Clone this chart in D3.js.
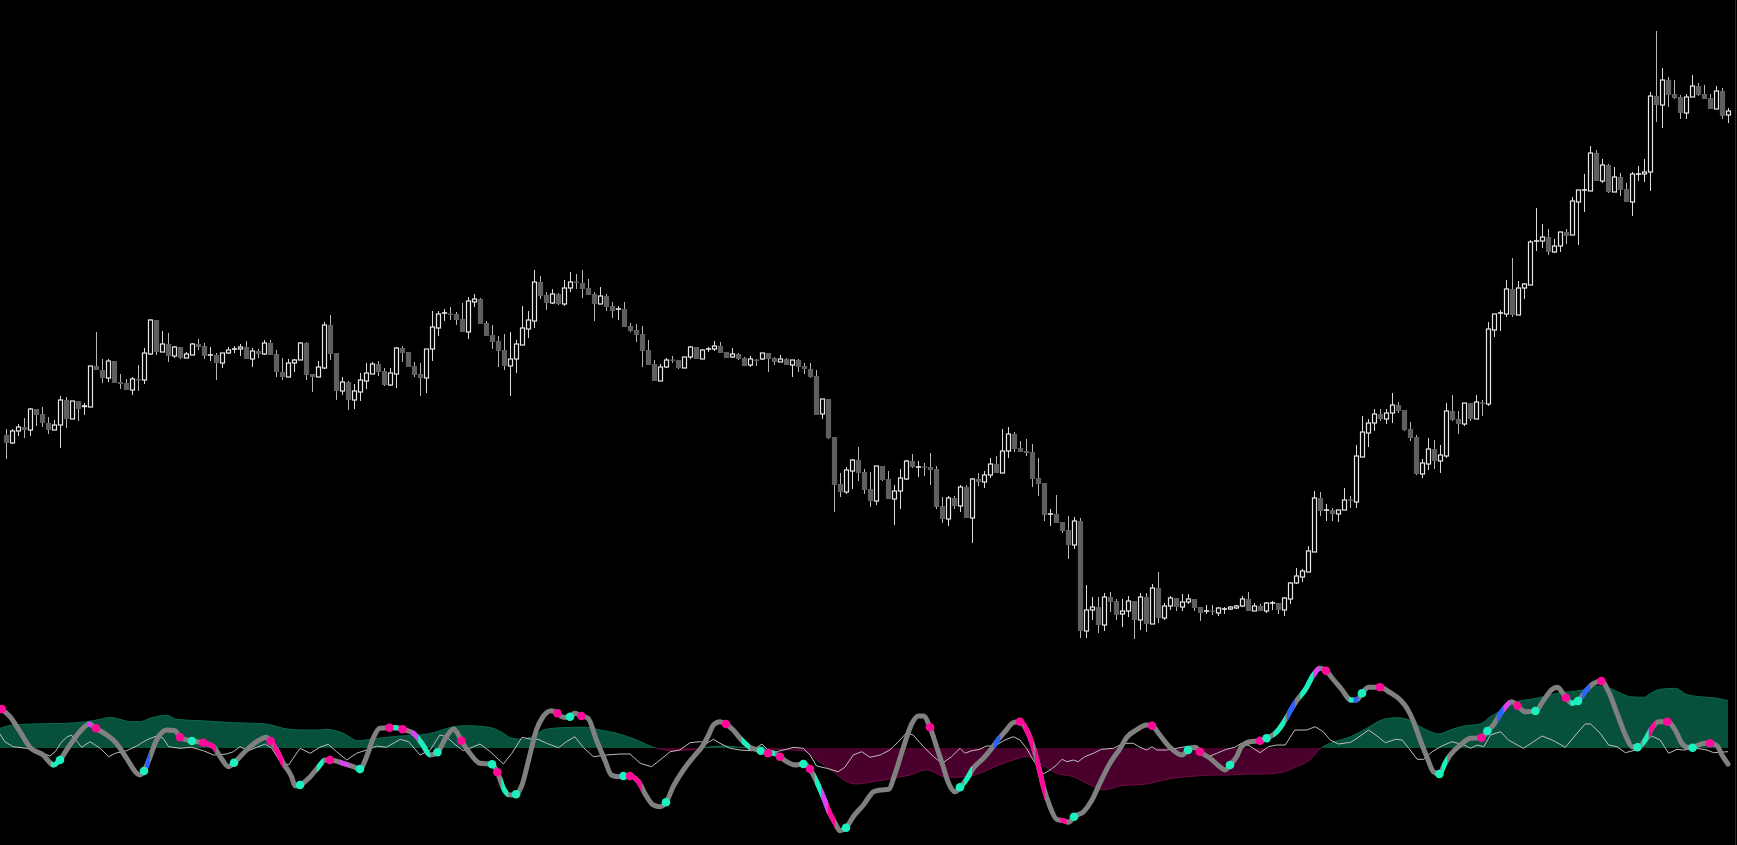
<!DOCTYPE html>
<html lang="en">
<head>
<meta charset="utf-8">
<title>Candles with oscillator</title>
<script src="https://cdn.jsdelivr.net/npm/d3@7"></script>
<style>
  html, body { margin: 0; padding: 0; background: #000; overflow: hidden; }
  svg { display: block; }
</style>
</head>
<body>
<script>
// ---- price candles (one per bar) ----
var opens = [265,257,269,273,270,291,286,277,270,275, 300,281,299,292,293,334,330,322,339,318,
  317,310,321,320,346,380,348,356,344,353, 342,345,356,354,345,345,337,347,351,351,
  353,341,349,346,357,346,328,323,337,340, 357,326,323,332,375,347,309,318,300,308,
  319,326,336,329,315,326,352,348,334,326, 322,351,372,387,386.5,386,381,368,398,401,
  377,365,359,350,334,341,355,371,379,418, 405,397,406,396,412,418.5,417,412,406,396,
  404,394,391,391,374,370,366,350,336,319, 333,340.5,340,332,343,353,341,351,351,354,
  348,343,346,342,335,340.5,341,347,342,338, 341,335,340,334,331,324,286,301,263,216,
  208,229,240,228,211,199,234,221,201,209, 221,239,233,233.5,233,231,194,181,202,194,
  213,182,221,218,225,236,227,249,266,252, 249,248,222,217,186,186,178,170,155,179,
  69,90,93,75,103,99,86,89,99,80, 103,76,112,82,94,102,93,98,101,93,
  89,89.5,87,91,91,92,94,101,89,94, 89,97,97,90,101,117,123,128,148,202,
  190,190,186,190,200.5,198,243,267,277,286, 281,287,295,290,271,263,226,236,251,239,
  244,289,281,276,297,281,297.5,296,370,387, 386,411,385,412,415,459,459,463,448,454,
  468,465,498,510,509,547,519,535,508,523, 511,498,526,526,528,604,595,620,606,603,
  587,603,614,606,602,591,609,585];
var highs = [271,271,276,282,292,291,293,283,280,304, 303,299,299,297,334,368,341,341,339,326,
  321,323,335,352,381,380,369,367,354,353, 348,357,361,357,353,347,347,353,354,356,
  359,352,351,360,360,350,342,341,341,358, 358,326,339,378,385,347,323,319,316,327,
  337,338,339,332,332,353,354,348,338,337, 351,389,389,391,393,388,397,403,406,402,
  379,375,364,366,368,360,394,389,430,424, 408,411,407,420,428,426,430,421,408,413,
  406,398,394,398,377,376,374,360,340,336, 342,344,340,343,354,353,351,353,359,358,
  348,352,347,343,344,341,347,347,343,345, 342,340,341,337,337,330,301,301,263,227,
  233,241,253,231,228,234,234,229,215,231, 240,246,239,237,247,234,203,204,204,215,
  215,222,227,229,242,244,271,273,268,259, 261,256,242,217,191,205,178,184,183,182,
  115,103,103,107,108,101,101,104,99,107, 107,116,128,97,104,102,106,106,101,93,
  95,95,93,93,94,95,104,108,97,96, 98,99,97,103,118,132,131,154,209,208,
  196,192,190,212,204,255,284,281,291,291, 291,307,298,290,278,265,241,262,260,255,
  297,305,289,297,297,305,300,378,386,390, 420,442,419,417,460,492,476,471,461,468,
  471,503,510,526,554,550,541,536,533,527, 517,528,534,541,608,669,632,623,620,605,
  606,625,617,615,606,614,612,592];
var lows = [241,256,264,262,264,274,273,266,270,252, 272,281,279,285,293,330,317,318,317,311,
  310,305,309,316,345,345,348,338,342,341, 342,345,350,341,339,320,332,346,347,344,
  341,333,342,345,345,323,320,323,328,340, 320,308,323,331,340,300,305,290,291,299,
  311,326,324,314,314,312,338,333,323,304, 307,339,364,379,380,375,368,361,393,376,
  364,351,333,330,304,327,355,362,372,401, 390,396,395,394,408,411,402,405,379,396,
  389,382,380,373,368,358,333,335,319,319, 332,337,331,332,341,341,341,348,349,347,
  342,342,340,334,333,334,340,328,335,338, 335,323,328,326,322,285,281,261,188,203,
  206,211,219,206,193,195,219,201,175,191, 220,232,223,224,215,191,177,174,191,188,
  182,157,214,212,222,227,227,242,248,248, 244,213,204,179,174,177,167,141,151,62,
  62,80,67,69,88,80,73,83,61,70, 68,76,77,80,90,89,89,96,89,79,
  86,85,84,86,90,91,93,89,89,89, 87,90,86,84,96,116,118,128,148,184,
  179,179,178,190,192,192,243,253,269,279, 276,277,287,269,259,225,222,230,231,227,
  242,279,266,274,279,281,284,294,363,369, 383,383,385,401,415,449,452,445,447,448,
  456,465,455,488,509,519,517,507,508,504, 498,484,519,518,509,578,572,593,601,581,
  581,603,604,601,591,591,581,577];
var closes = [257,269,273,270,291,285,277,270,275,300, 281,299,291,294,334,330,322,339,317,316,
  310,321,320,347,380,348,356,344,353,342, 346,356,353,344,345,337,347,350,351,353,
  341,349,346,357,345,328,323,337,340,357, 325,323,333,375,346,309,318,300,309,320,
  327,336,328,315,327,352,347,333,325,322, 351,373,386,387,386,380,368,399,401,376,
  364,358,349,334,341,356,372,380,418,404, 397,406,396,412,418,418,411,405,396,404,
  393,389,391,373,369,365,349,335,319,333, 340,340,332,343,353,341,350,351,354,347,
  342,346,341,334,341,340,347,341,338,341, 335,340,333,331,323,285,301,262,215,208,
  230,240,227,210,199,234,220,201,209,222, 239,233,233,233,230,193,181,202,194,213,
  182,221,218,225,236,227,249,266,251,248, 247,221,216,185,186,177,169,155,179,69,
  90,93,75,103,98,85,89,99,80,103, 76,112,82,94,102,93,98,101,92,87,
  89,89,92,91,93,94,101,89,94,89, 97,97,90,102,117,124,129,149,202,189,
  190,186,190,200,200,244,268,277,286,281, 287,295,289,270,262,226,237,251,239,245,
  289,280,276,297,281,298,297,371,386,387, 411,385,412,416,458,459,463,448,454,468,
  464,499,510,510,547,519,535,508,523,510, 498,526,526,528,604,595,620,605,602,587,
  603,614,605,601,591,609,584,589];

// ---- lower panel: [bar index, value] ----
var histogram = [[-1,19.7],[1.2,23],[4.6,24],[10.1,24.7],[13.4,26.3],[15.7,28.7],[17.3,30.7],[19,28.7],
  [20.7,26.3],[22.3,26.3],[24,29.7],[26.8,32.7],[28.4,28.7],[32.3,27.3],[37.9,25.3],[43.4,24],
  [46.2,19.7],[49,18],[52.3,18],[53.4,18.7],[56.2,14.7],[58.7,7.3],[60.7,8.7],[65.7,12],[69,13],
  [71.2,15.3],[72.3,17.3],[74.6,21.3],[76.8,22.3],[78.4,22],[81.2,19.7],[82.9,14.7],[84.3,9.7],
  [86,8.7],[87.9,12],[89.6,18],[91.2,19.7],[94.6,20.7],[96.8,20.7],[99,18],[101.8,14.7],[105.1,8],
  [107.9,0.7],[111.2,-2.7],[114,-2],[116.2,0.3],[119.6,2],[122.3,0.7],[125.1,-0.3],[127.9,-1.3],
  [132.9,-2.7],[135.1,-12],[137.9,-23.7],[140.1,-33.7],[141.8,-36],[144.6,-33.7],[147.9,-30.3],
  [150.7,-27],[153.4,-22],[156.8,-29.3],[160.1,-28.7],[162.3,-25.3],[165.1,-18],[167.9,-12],
  [170.1,-8.7],[172.3,-15.3],[175.1,-25.3],[177.9,-28.7],[180.7,-37],[182.9,-42],[185.7,-38],
  [190.1,-36],[192.9,-32],[195.7,-29.3],[198.4,-28],[201.2,-27],[204,-27],[206.8,-26],[209.6,-26],
  [212.3,-24.7],[215.1,-18.7],[217.3,-12],[219,-1],[220.7,4.7],[224.1,11.3],[226.8,19.7],
  [229.6,28.7],[231.8,30.3],[233.5,28.7],[235.2,23],[236.8,18],[238.8,14],[240.7,18],[243,22],
  [245.7,24],[247.4,31.3],[249.6,38.7],[251.8,46.3],[254,48.7],[256.3,51.3],[258.5,54.7],
  [260.7,56.3],[262.9,58],[265.2,62],[267.4,59.7],[269.1,54.7],[270.7,51.3],[273,50.7],
  [274.1,54.7],[275.7,58.7],[278.2,59.7],[280.2,53.3],[282.4,51.3],[285.2,49.7],[287,47.3]];

var signal = [[-1,14],[-0.2,6.3],[1.2,1.3],[3.4,-0.3],[6.2,-5.3],[7.3,-8],[8.2,-3.7],[9.3,6.3],
  [10.1,10.7],[10.9,13],[12.1,4.7],[12.6,0.7],[14,6.3],[15.7,-0.3],[17.1,-8.7],[18.2,-5.3],
  [20.1,-2.7],[21.8,2],[23.4,8],[25.1,12],[26.2,9.7],[27.1,1.3],[29,-0.3],[30.9,0.7],[32.9,-2.7],
  [34.6,-7],[36.8,-6],[37.9,-3.7],[39,1.3],[40.4,-2.7],[41.8,0.7],[43.2,4],[44.3,-0.3],
  [45.7,-13.7],[47.1,-17],[49,-0.3],[50.7,-5.3],[52.3,0.7],[53.7,3.7],[55.1,-3.7],[56.8,-12],
  [58.4,-5.3],[60.1,-2],[61.8,2],[63.4,0.7],[65.7,8.7],[67.1,6.3],[69,-7],[70.7,-2],[72.3,13],
  [73.4,11.3],[74.6,4.7],[76.2,-2.7],[77.3,-0.3],[79,4],[80.7,-3.7],[82.9,-16],[84.3,-5.3],
  [86,10.7],[87.6,8.7],[88.7,8.7],[90.1,4.7],[92.1,0.3],[93.4,6.3],[94.8,11.3],[96.2,0.7],
  [97.9,-8.7],[100.1,-7],[102.3,-6],[104,-6],[105.7,-15.3],[107.6,-18.7],[109,-12],[110.7,-3.7],
  [112.3,-2],[114,5.3],[115.7,6.3],[116.8,4.7],[117.9,8.7],[119,4.7],[120.7,-0.3],[122.3,-2],
  [124.3,-2.7],[126,4],[127,-2],[128.4,-3.7],[130.1,-1.3],[131.2,0.7],[132.9,-0.3],[134,-7],
  [135.1,-18],[136.8,-20.3],[138.7,-23.7],[139.8,-19.3],[141.2,-7],[142.6,-3.7],[144,-9.3],
  [145.7,-7],[147.3,-2],[149,8],[150.1,15.3],[151.2,13],[152.9,1.3],[154.6,-8.7],[156,-15.3],
  [157.6,-8.7],[159,-0.3],[159.8,-5.3],[161,-2.7],[162.3,-1.3],[163.4,2],[164.8,2],[166.5,8],
  [167.9,11.3],[169,8],[170.1,-0.3],[171.2,-12],[172.9,-26],[174,-22],[175.1,-17],[176,-11.3],
  [176.8,-13.7],[177.9,-12],[178.7,-13.7],[179.8,-8.7],[181.2,-5.3],[182.6,-1.3],[184.6,-0.3],
  [186.2,4.7],[187.9,4.7],[189,0.7],[190.1,-2],[191,1.3],[191.8,-2],[193.4,-2],[195.1,-0.3],
  [196,0.7],[197.6,2],[199,-2.7],[200.4,-8.7],[201.8,-5.3],[203.4,-1.3],[204.8,0.7],[205.9,4.7],
  [207.3,2],[209,-4.7],[210.4,1.3],[211.8,3],[213.2,3],[214.8,18],[216.8,18],[218.2,21.3],
  [219.6,16],[220.7,8],[222.1,4],[224.1,5.7],[225.4,10.7],[227.1,18],[228.5,12],[229.9,5.3],
  [231.6,8.7],[232.7,8],[233.8,-0.3],[235.2,-11.3],[236.3,-11.3],[237.7,-3.7],[239.3,2],[241,6.3],
  [243,3],[244.1,-0.3],[245.2,3],[246.3,1.3],[247.4,13],[249.1,16.3],[250.4,8],[252.9,-0.3],
  [254.6,6.3],[256,12],[257.7,8],[259.9,0.7],[261.6,13],[263.2,24],[264.1,24],[265.7,14.7],
  [267.1,3],[268.5,1.3],[269.9,-4.7],[271.6,-2],[273.5,8],[274.3,12],[275.7,8],[277.1,-5.3],
  [278.5,-1.3],[279.6,-2],[281.8,-0.3],[283.5,-2],[284.6,-4.7],[287,-3.7]];

var oscillator = [[-1,39.7],[0.67,31.3],[2.33,16.3],[4,0.7],[6.2,-7],[7.9,-17],[9,-12],[10.1,-2],
  [12.3,16.3],[13.9,24],[15,19.7],[16.8,13],[18.4,4.7],[20.1,-10.3],[21.8,-25.3],[22.3,-27],
  [23,-23],[23.7,-13.7],[25.1,8],[26.8,18],[28.2,17.3],[29,10.7],[31,7],[32.9,5.3],[34.6,1.3],
  [35.7,-8.7],[37.1,-18.7],[38,-14.7],[40.1,-2],[41.8,6.3],[43.4,10.7],[44.1,7],[45.1,-2],
  [46.2,-15.3],[47.6,-28.7],[48.2,-38],[49,-37],[50.7,-28.7],[52.1,-18.7],[53.2,-12],[54,-12],
  [56.2,-15.3],[57.9,-18.7],[59,-21],[60.1,-8.7],[61.2,9.7],[62.3,19.7],[63.9,20.3],[65,20.3],
  [66.1,18.7],[67.9,14.7],[69.3,4.7],[70.7,-7],[71.9,-4.3],[73.4,11.3],[74.6,19],[75.4,13],
  [75.9,7.3],[77.3,-5.3],[79,-15.3],[81,-16.3],[81.9,-24.3],[82.9,-40.3],[84,-47],[85,-46.3],
  [86,-37],[87.1,-12],[88.4,18],[89.5,31.3],[90.9,37.3],[91.9,34.7],[92.9,30.7],[94,31.3],
  [94.8,34.7],[95.9,32],[97,29.7],[98.4,8],[99.8,-12],[100.9,-27],[102,-28.7],[102.9,-28],
  [104,-28],[105.4,-33.7],[106.8,-48.7],[107.9,-57],[109,-58.7],[110,-54.3],[111.2,-38.7],
  [112.9,-22],[114.6,-8.7],[116.2,3],[117.1,13],[117.9,23],[119,26.3],[120,24],[121.2,18],
  [122.6,8],[124,0.7],[125.8,-2.7],[127,-5.3],[127.9,-5.3],[129,-8.7],[130.1,-13.7],[131.5,-17],
  [132.9,-16],[134,-21],[135.1,-33.7],[136.2,-48.7],[137.3,-65.3],[138.2,-75.3],[139,-82.7],
  [140,-79.7],[141.2,-68.7],[142.9,-57],[144.6,-43.7],[145.7,-42],[147.1,-41.3],[148.2,-25.3],
  [149.6,1.3],[151,24.7],[152.1,32],[152.9,32],[154,20.7],[155.1,1.3],[156.2,-18.7],[157,-33.7],
  [158.2,-43.7],[159,-39.3],[160.2,-30.3],[161.2,-20.3],[162.9,-10.3],[164.3,-0.3],[165.1,6.3],
  [166.5,16.3],[167.9,25.3],[169,26.3],[170.1,18],[171.2,1.3],[172.1,-18.7],[172.9,-38.7],
  [174,-58.7],[175.1,-71.3],[176.2,-72.7],[177.1,-74.3],[178,-68.7],[179.6,-63.7],[181,-52],
  [182.3,-35.3],[184,-15.3],[185.7,-0.3],[186.8,10.7],[188.4,18],[190.1,23],[191,22.3],[192.3,13],
  [194,0.7],[196,-7],[197,-2],[198.2,0.7],[199,-3.7],[200.7,-10.3],[202.3,-18.7],[203.2,-22],
  [204,-17],[205.1,-8.7],[205.9,1.3],[207.3,6.3],[209,7.3],[210.1,9.7],[211.8,16.3],[213.2,28],
  [214.3,39.7],[215.4,49.7],[216.5,58],[217.9,73],[219,79.7],[220,77.3],[221.3,68],[222.7,58],
  [224.1,48],[225.1,48],[226,54.7],[227.1,60.7],[229,60.7],[230.7,55.3],[232.4,48],[233.5,39.7],
  [234.6,26.3],[235.7,8],[236.8,-8.7],[237.9,-23.7],[238.9,-26],[239.7,-17],[240.7,-7],[242.4,3],
  [244.1,9.7],[245.9,10.3],[246.9,17],[247.9,23],[249.1,34.7],[250.2,43],[251,46.3],[251.9,42.3],
  [253.2,36.3],[254.9,37],[256.3,48],[257.7,58.7],[258.6,60.7],[259.3,56.3],[260,50.3],[261,44.7],
  [262,47],[263.2,56.3],[264.6,64.7],[265.9,67],[267.1,56.3],[268.5,34.7],[269.9,13],[271,1.3],
  [271.9,0.7],[273.2,8],[274.3,19.7],[275.4,26.3],[276.9,26.3],[278.2,18],[279.3,4.7],[280.2,0.7],
  [281.1,0.3],[282.1,3],[283.2,4.7],[284,4.7],[285.2,2],[286,-7],[287,-16]];

// coloured stretches of the oscillator: [from bar, to bar, kind]
var segments = [[7.5,8.7,"c"],[13.6,14.3,"v"],[23.2,24,"b"],[33.4,35,"m"],[44.6,46.2,"m"],
  [51.8,52.9,"c"],[55.7,57.1,"v"],[64.5,65.4,"c"],[67.6,68.7,"v"],[68.7,70.7,"c"],[82.6,83.7,"c"],
  [104.6,106,"m"],[122.6,124,"c"],[127.4,128.2,"c"],[134.8,135.9,"c"],[135.9,137,"v"],
  [137,138.2,"m"],[159.6,161,"c"],[164.6,165.7,"b"],[169.6,171.2,"m"],[171.5,173.2,"m"],
  [175.7,176.8,"m"],[211.2,213.2,"c"],[213.5,214.8,"b"],[215.7,217.9,"c"],[217.9,219,"v"],
  [223.8,224.6,"c"],[224.6,225.4,"b"],[239.3,240.2,"c"],[248.5,249.6,"b"],[249.6,250.7,"v"],
  [260.7,261.6,"c"],[262.7,264,"b"],[272.7,273.8,"c"],[273.8,274.9,"m"]];

// signal dots: [bar, value, kind]
var dots = [[-0.7,39,"m"],[9,-12,"c"],[15,19.7,"m"],[23,-23,"c"],[29,10.7,"m"],[31,7,"c"],
  [32.9,5.3,"m"],[38,-14.7,"c"],[44.1,7,"m"],[49,-37,"c"],[54,-12,"m"],[59,-21,"c"],[63.9,20.3,"m"],
  [66.1,18.7,"m"],[71.9,-4.3,"c"],[75.9,7.3,"m"],[81,-16.3,"c"],[81.9,-24.3,"m"],[85,-46.3,"c"],
  [91.9,34.7,"m"],[94,31.3,"c"],[95.9,32,"m"],[102.9,-28,"c"],[104,-28,"m"],[110,-54.3,"c"],
  [120,24,"m"],[125.8,-2.7,"c"],[127,-5.3,"m"],[129,-8.7,"m"],[132.9,-16,"c"],[134,-21,"m"],
  [140,-79.7,"c"],[154,20.7,"m"],[159,-39.3,"c"],[169,26.3,"m"],[178,-68.7,"c"],[191,22.3,"m"],
  [197,-2,"c"],[199,-3.7,"m"],[204,-17,"c"],[209,7.3,"m"],[210.1,9.7,"c"],[220,77.3,"m"],
  [226,54.7,"c"],[229,60.7,"m"],[238.9,-26,"c"],[245.9,10.3,"m"],[246.9,17,"c"],[251.9,42.3,"m"],
  [254.9,37,"c"],[260,50.3,"m"],[262,47,"c"],[265.9,67,"m"],[271.9,0.7,"c"],[276.9,26.3,"m"],
  [281.1,0.3,"c"],[284,4.7,"m"]];

var colors = { c: "#1cf0bf", m: "#ff0a98", b: "#2962ff", v: "#dc42f5" };

var width = 1737, height = 845;

var svg = d3.select("body").append("svg")
    .attr("width", width)
    .attr("height", height);

svg.append("rect")
    .attr("width", width)
    .attr("height", height)
    .attr("fill", "#000");

var x = d3.scaleLinear().domain([0, 287]).range([6, 1728]);
var yPrice = d3.scaleLinear().domain([0, 700]).range([700, 0]);
var yInd = d3.scaleLinear().domain([-100, 100]).range([848, 648]);

// right border of the pane
svg.append("line")
    .attr("x1", width - 1.5).attr("x2", width - 1.5)
    .attr("y1", 0).attr("y2", height)
    .attr("stroke", "#2a2a2a");

// ---- candles ----
var candles = opens.map(function(o, i) {
    return { i: i, o: o, h: highs[i], l: lows[i], c: closes[i] };
});

var cg = svg.append("g").attr("class", "candles");

cg.selectAll("line.wick")
    .data(candles)
  .enter().append("line")
    .attr("class", "wick")
    .attr("x1", function(d) { return Math.round(x(d.i)) + 0.5; })
    .attr("x2", function(d) { return Math.round(x(d.i)) + 0.5; })
    .attr("y1", function(d) { return yPrice(d.h); })
    .attr("y2", function(d) { return yPrice(d.l); })
    .attr("stroke", function(d) { return d.c >= d.o ? "#dcdcdc" : "#b8b8b8"; })
    .attr("stroke-width", 1);

cg.selectAll("rect.body")
    .data(candles)
  .enter().append("rect")
    .attr("class", "body")
    .each(function(d) {
        var up = d.c >= d.o;
        var top = yPrice(Math.max(d.o, d.c));
        var h = Math.abs(yPrice(d.o) - yPrice(d.c));
        var cx = Math.round(x(d.i)) + 0.5;
        var r = d3.select(this);
        if (up && h >= 2) {
            r.attr("x", cx - 2).attr("width", 4)
             .attr("y", top).attr("height", h)
             .attr("fill", "#000").attr("stroke", "#e8e8e8").attr("stroke-width", 1.2);
        } else if (up) {
            r.attr("x", cx - 2.6).attr("width", 5.2)
             .attr("y", top - 0.8).attr("height", Math.max(h, 1.6))
             .attr("fill", "#e8e8e8");
        } else {
            r.attr("x", cx - 2.6).attr("width", 5.2)
             .attr("y", top).attr("height", Math.max(h, 1.4))
             .attr("fill", "#5f5f5f");
        }
    });

// ---- lower panel ----
var zeroY = yInd(0);
var defs = svg.append("defs");
defs.append("clipPath").attr("id", "clip-pos")
  .append("rect").attr("x", 0).attr("y", 0).attr("width", width).attr("height", zeroY);
defs.append("clipPath").attr("id", "clip-neg")
  .append("rect").attr("x", 0).attr("y", zeroY).attr("width", width).attr("height", height - zeroY);

var area = d3.area()
    .x(function(d) { return x(d[0]); })
    .y0(zeroY)
    .y1(function(d) { return yInd(d[1]); })
    .curve(d3.curveMonotoneX);

var edge = d3.line()
    .x(function(d) { return x(d[0]); })
    .y(function(d) { return yInd(d[1]); })
    .curve(d3.curveMonotoneX);

svg.append("path").datum(histogram)
    .attr("d", area).attr("fill", "#06503c").attr("clip-path", "url(#clip-pos)");
svg.append("path").datum(histogram)
    .attr("d", edge).attr("fill", "none").attr("stroke", "#0c6a50").attr("stroke-width", 1)
    .attr("clip-path", "url(#clip-pos)");
svg.append("path").datum(histogram)
    .attr("d", area).attr("fill", "#4a002c").attr("clip-path", "url(#clip-neg)");
svg.append("path").datum(histogram)
    .attr("d", edge).attr("fill", "none").attr("stroke", "#6e0c43").attr("stroke-width", 1)
    .attr("clip-path", "url(#clip-neg)");

// thin signal line
svg.append("path").datum(signal)
    .attr("d", d3.line()
        .x(function(d) { return x(d[0]); })
        .y(function(d) { return yInd(d[1]); }))
    .attr("fill", "none")
    .attr("stroke", "#bdbdbd")
    .attr("stroke-width", 1);

// thick oscillator
var oscLine = d3.line()
    .x(function(d) { return x(d[0]); })
    .y(function(d) { return yInd(d[1]); })
    .curve(d3.curveMonotoneX);

svg.append("path").datum(oscillator)
    .attr("d", oscLine)
    .attr("fill", "none")
    .attr("stroke", "#808080")
    .attr("stroke-width", 5)
    .attr("stroke-linejoin", "round")
    .attr("stroke-linecap", "round");

segments.forEach(function(s, k) {
    defs.append("clipPath").attr("id", "seg" + k)
      .append("rect")
        .attr("x", x(s[0])).attr("width", x(s[1]) - x(s[0]))
        .attr("y", 600).attr("height", 245);
    svg.append("path").datum(oscillator)
        .attr("d", oscLine)
        .attr("fill", "none")
        .attr("stroke", colors[s[2]])
        .attr("stroke-width", 5)
        .attr("clip-path", "url(#seg" + k + ")");
});

svg.append("g").selectAll("circle")
    .data(dots)
  .enter().append("circle")
    .attr("cx", function(d) { return x(d[0]); })
    .attr("cy", function(d) { return yInd(d[1]); })
    .attr("r", 4.3)
    .attr("fill", function(d) { return colors[d[2]]; });
</script>
</body>
</html>
